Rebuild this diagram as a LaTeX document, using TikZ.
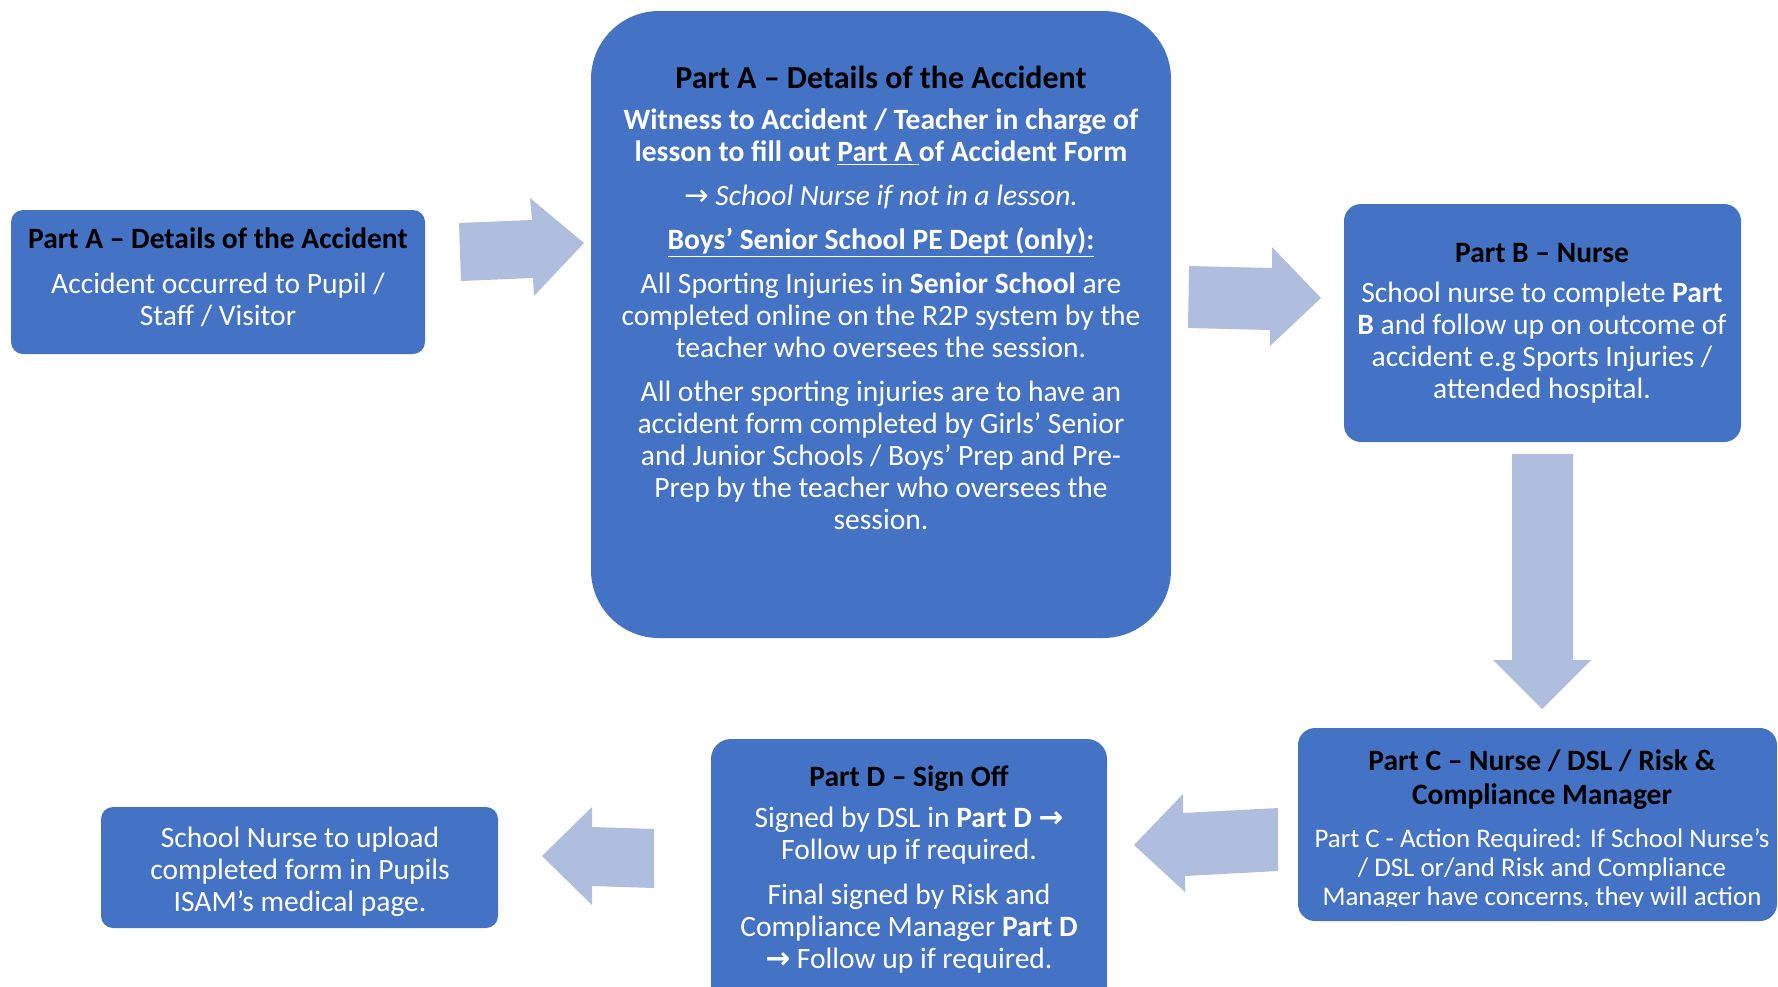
\documentclass[tikz,border=0pt]{standalone}
\usepackage{fontspec}
\setmainfont{Carlito}
\newfontfamily\arrowfont{DejaVu Sans}
\usetikzlibrary{fit}
\definecolor{boxblue}{RGB}{68,114,196}
\definecolor{arrowblue}{RGB}{175,189,222}
\tikzset{step box/.style={rectangle,fill=boxblue,inner sep=0pt,rounded corners=#1},
  step box/.default=0.24cm,
  step text/.style={text=white,align=center,anchor=base,inner sep=0pt,font=\fontsize{16.8}{18.2}\selectfont},
  title text/.style={step text,font=\fontsize{16.8}{18.8}\selectfont\bfseries,text=black},
  flow arrow/.style={fill=arrowblue}}

\begin{document}
\begin{tikzpicture}[x=0.02cm,y=-0.02cm]
  \clip (0,0) rectangle (1778,987);
  % boxes
  \node[step box, fit={(11,210) (425,354)}] (1) {};
  \node[step box=1.36cm, fit={(591,11) (1171,638)}] (2) {};
  \node[step box=0.34cm, fit={(1344,204) (1741,442)}] (3) {};
  \node[step box=0.34cm, fit={(1298,728) (1777,921)}] (4) {};
  \node[step box=0.4cm, fit={(711,739) (1107,1010)}] (5) {};
  \node[step box, fit={(101,807) (498,928)}] (6) {};
  % block arrows between the steps
  \fill[flow arrow] (459,223) -- (532,220) -- (530,198) -- (584,243) -- (534,296) -- (533,278) -- (461,281) -- cycle;
  \fill[flow arrow] (1189,266) -- (1272,268) -- (1272,247) -- (1321,298) -- (1270,346) -- (1270,330) -- (1188,328) -- cycle;
  \fill[flow arrow] (1512,454) -- (1573,454) -- (1573,660) -- (1591,660) -- (1542,709) -- (1493,660) -- (1512,660) -- cycle;
  \fill[flow arrow] (1278,808) -- (1278,871) -- (1185,876) -- (1185,892) -- (1134,845) -- (1183,794) -- (1183,813) -- cycle;
  \fill[flow arrow] (654,829) -- (654,888) -- (592,886) -- (592,905) -- (542,856) -- (592,807) -- (592,827) -- cycle;
  % texts (anchored on the baseline of their last line)
  \node[title text] (1a) at (218,248) {Part A – Details of the Accident};
  \node[step text] (1b) at (218,325) {Accident occurred to Pupil /\\ Staff / Visitor};

  \node[title text, font=\fontsize{18.2}{19}\selectfont\bfseries] (2a) at (881,88) {Part A – Details of the Accident};
  \node[step text] (2b) at (881,529) {\textbf{Witness to Accident / Teacher in charge of}\\
    \textbf{lesson to fill out \underline{Part A\ }of Accident Form}\\[6.8pt]
    \textit{{\arrowfont→} School Nurse if not in a lesson.}\\[6.8pt]
    \textbf{\underline{Boys’ Senior School PE Dept (only):}}\\[6.8pt]
    All Sporting Injuries in \textbf{Senior School} are\\
    completed online on the R2P system by the\\
    teacher who oversees the session.\\[6.8pt]
    All other sporting injuries are to have an\\
    accident form completed by Girls’ Senior\\
    and Junior Schools / Boys’ Prep and Pre-\\
    Prep by the teacher who oversees the\\
    session.};

  \node[title text] (3a) at (1542,262) {Part B – Nurse};
  \node[step text] (3b) at (1542,398) {School nurse to complete \textbf{Part}\\
    \textbf{B} and follow up on outcome of\\
    accident e.g Sports Injuries /\\
    attended hospital.};

  \node[title text] (4a) at (1542,804) {Part C – Nurse / DSL / Risk \&\\ Compliance Manager};
  \begin{scope}
    \clip (1298,728) rectangle (1778,906);
    \node[step text, font=\fontsize{15.3}{16.5}\selectfont] (4b) at (1542,905) {Part C - Action Required: If School Nurse’s\\
      / DSL or/and Risk and Compliance\\
      Manager have concerns, they will action};
  \end{scope}

  \node[title text] (5a) at (909,786) {Part D – Sign Off};
  \node[step text] (5b) at (909,968) {Signed by DSL in \textbf{Part D {\arrowfont→}}\\
    Follow up if required.\\[7.4pt]
    Final signed by Risk and\\
    Compliance Manager \textbf{Part D}\\
    \textbf{\arrowfont→} Follow up if required.};

  \node[step text] (6a) at (300,911) {School Nurse to upload\\
    completed form in Pupils\\
    ISAM’s medical page.};
\end{tikzpicture}
\end{document}
